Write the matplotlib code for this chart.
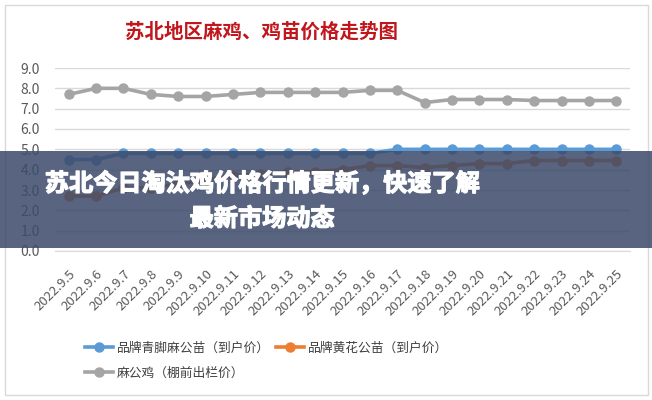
import matplotlib
matplotlib.use("Agg")
import matplotlib.pyplot as plt
import matplotlib.patheffects as pe
from matplotlib.patches import Rectangle

plt.rcParams['font.family'] = ['Noto Sans CJK SC', 'DejaVu Sans']

# --------------------------------------------------------------
# data
dates = ["2022.9.%d" % d for d in range(5, 26)]
blue_price = [4.5, 4.5, 4.8, 4.8, 4.8, 4.8, 4.8, 4.8, 4.8, 4.8, 4.8,
              4.8, 5.0, 5.0, 5.0, 5.0, 5.0, 5.0, 5.0, 5.0, 5.0]
orange_price = [2.7, 2.7, 3.1, 3.1, 3.3, 3.5, 3.7, 3.8, 3.9, 3.9, 4.0,
                4.2, 4.2, 4.1, 4.2, 4.3, 4.3, 4.45, 4.45, 4.45, 4.45]
gray_price = [7.7, 8.0, 8.0, 7.7, 7.6, 7.6, 7.7, 7.8, 7.8, 7.8, 7.8,
              7.9, 7.9, 7.3, 7.45, 7.45, 7.45, 7.4, 7.4, 7.4, 7.4]
series_names = ["品牌青脚麻公苗（到户价）", "品牌黄花公苗（到户价）", "麻公鸡（棚前出栏价）"]
series_colors = ['#5b9bd5', '#ed7d31', '#a5a5a5']
yticks = [0, 1, 2, 3, 4, 5, 6, 7, 8, 9]

# --------------------------------------------------------------
fig = plt.figure(figsize=(6.52, 4.0), dpi=100)
fig.patch.set_facecolor('white')

# chart frame
fig.patches.append(Rectangle((5/652, 5/400), 643/652, 390/400, transform=fig.transFigure,
                             fill=False, edgecolor='#d9d9d9', linewidth=1))

ax = fig.add_axes([55/652, 1-251/400, 575/652, 183/400])
x = list(range(len(dates)))
lines = []
for vals, name, col in zip([blue_price, orange_price, gray_price], series_names, series_colors):
    ln, = ax.plot(x, vals, color=col, linewidth=2.6, marker='o', markersize=6.5, label=name)
    lines.append(ln)

ax.set_xlim(-0.5, len(dates) - 0.5)
ax.set_ylim(0, 9)
ax.set_yticks(yticks)
ax.set_yticklabels(["%.1f" % v for v in yticks], fontsize=10, color='#595959')
ax.set_xticks(x)
ax.set_xticklabels(dates, rotation=45, ha='right', rotation_mode='anchor', fontsize=9.5, color='#595959')
ax.tick_params(axis='y', length=0, pad=11)
ax.tick_params(axis='x', length=0, pad=12)
ax.grid(axis='y', color='#d9d9d9', linewidth=1)
ax.set_axisbelow(True)
for s in ['top', 'right', 'left']:
    ax.spines[s].set_visible(False)
ax.spines['bottom'].set_color('#d9d9d9')

fig.text(261/652, 1-32/400, "苏北地区麻鸡、鸡苗价格走势图", ha='center', va='center',
         fontsize=14, color='#c0161c', fontweight='bold')

# legend
fig.legend(handles=lines[:2], labels=series_names[:2], loc='center left',
           bbox_to_anchor=(73/652, 1-348/400), ncol=2, frameon=False, fontsize=9.2,
           handlelength=2.2, columnspacing=0.5, handletextpad=0.3, labelcolor='#404040')
fig.legend(handles=lines[2:], labels=series_names[2:], loc='center left',
           bbox_to_anchor=(73/652, 1-373/400), frameon=False, fontsize=9.2,
           handlelength=2.2, handletextpad=0.3, labelcolor='#404040')

# dark banner on top
fig.patches.append(Rectangle((0, 1-248/400), 1, 97/400, transform=fig.transFigure,
                             facecolor='#3c4b6b', alpha=0.86, edgecolor='none', zorder=5))
heavy = [pe.withStroke(linewidth=0.9, foreground='white')]
fig.text(262/652, 1-184/400, "苏北今日淘汰鸡价格行情更新，快速了解", ha='center', va='center',
         fontsize=17.4, color='white', fontweight='black', zorder=6, path_effects=heavy)
fig.text(262/652, 1-219/400, "最新市场动态", ha='center', va='center',
         fontsize=17.4, color='white', fontweight='black', zorder=6, path_effects=heavy)

fig.savefig("out.png", dpi=100)
